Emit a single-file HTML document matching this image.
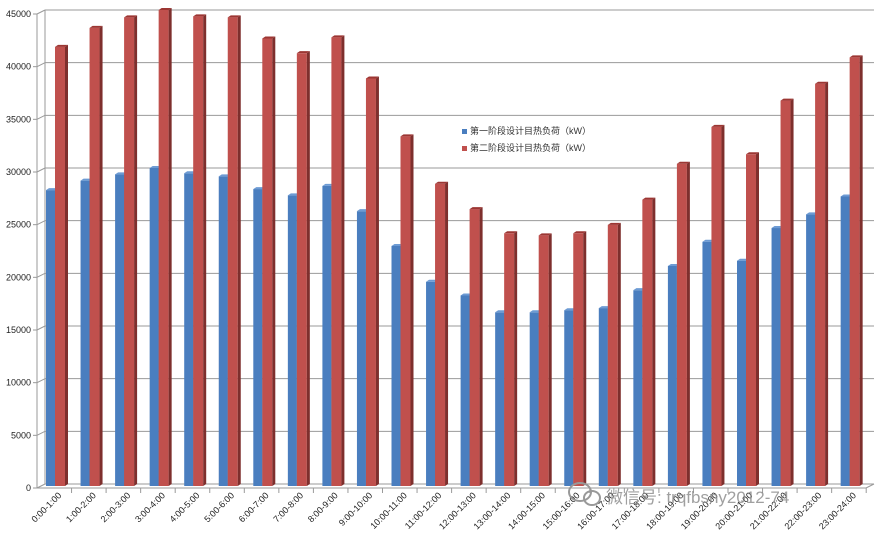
<!DOCTYPE html>
<html><head><meta charset="utf-8"><style>
body{margin:0;background:#fff;width:886px;height:539px;overflow:hidden}
svg{font-family:"Liberation Sans","Noto Sans CJK SC",sans-serif}
</style></head><body>
<svg id="c" width="886" height="539" xmlns="http://www.w3.org/2000/svg"></svg>
<script>
const s=document.getElementById('c');
const B=[27900,28800,29400,30000,29500,29200,28000,27400,28300,25900,22600,19200,17900,16300,16300,16500,16700,18400,20700,23000,21200,24300,25600,27300];
const R=[41500,43300,44300,45000,44400,44300,42300,40900,42400,38500,33000,28500,26100,23800,23600,23800,24600,27000,30400,33900,31300,36400,38000,40500];
const L=[];for(let i=0;i<24;i++)L.push(i+':00-'+(i+1)+':00');
let h='';
const y0=484,k=474/45000;
for(let v=0;v<=45000;v+=5000){const y=y0-v*k;
h+=`<line x1="45" y1="${y}" x2="874" y2="${y}" stroke="#9a9a9a" stroke-width="1"/>`;
h+=`<line x1="37" y1="${y+4}" x2="45" y2="${y}" stroke="#9a9a9a"/>`;
h+=`<line x1="33" y1="${y+4}" x2="37" y2="${y+4}" stroke="#9a9a9a"/>`;
h+=`<text x="31" y="${y+7}" font-size="9" text-anchor="end" fill="#222">${v}</text>`;}
h+=`<line x1="45" y1="10" x2="45" y2="${y0}" stroke="#9a9a9a"/><line x1="37" y1="14" x2="37" y2="${y0+4}" stroke="#9a9a9a"/>`;
h+=`<line x1="37" y1="${y0+4}" x2="866" y2="${y0+4}" stroke="#9a9a9a"/><line x1="866" y1="${y0+4}" x2="874" y2="${y0}" stroke="#9a9a9a"/>`;
const W=34.55;
for(let i=0;i<24;i++){
 const x=46+i*W;
 const bar=(x,w,v,c,d,t)=>{const y=y0-v*k;
  return `<rect x="${x}" y="${y}" width="${w}" height="${y0-y+2}" fill="${c}"/>`+
  `<polygon points="${x+w},${y} ${x+w+3},${y-2} ${x+w+3},${y0} ${x+w},${y0+2}" fill="${d}"/>`+
  `<polygon points="${x},${y} ${x+3},${y-2} ${x+w+3},${y-2} ${x+w},${y}" fill="${t}"/>`;};
 h+=bar(x,9,B[i],'#4a7ebf','#3a6394','#6d9bd4');
 h+=bar(x+9,10,R[i],'#c0504d','#7e2f2d','#9c3633');
 const tx=37+(i+1)*W;
 h+=`<line x1="${tx}" y1="${y0+4}" x2="${tx}" y2="${y0+9}" stroke="#9a9a9a"/>`;
 const lx=x+16;
 h+=`<text x="${lx}" y="496" font-size="9" text-anchor="end" fill="#222" transform="rotate(-45 ${lx} 496)">${L[i]}</text>`;
}
h+=`<rect x="462" y="129" width="5" height="5" fill="#4a7ebf"/><text x="470" y="134" font-size="9" fill="#333">第一阶段设计目热负荷（kW）</text>`;
h+=`<rect x="462" y="146" width="5" height="5" fill="#c0504d"/><text x="470" y="151" font-size="9" fill="#333">第二阶段设计目热负荷（kW）</text>`;
h+=`<ellipse cx="580" cy="492" rx="11" ry="9" fill="none" stroke="#999" stroke-width="2"/><ellipse cx="592" cy="498" rx="8" ry="7" fill="none" stroke="#999" stroke-width="2"/>`;
h+=`<text x="606" y="503" font-size="17" fill="#888" fill-opacity="0.8">微信号: trqfbsny2012-74</text>`;
s.innerHTML=h;
</script>
</body></html>
